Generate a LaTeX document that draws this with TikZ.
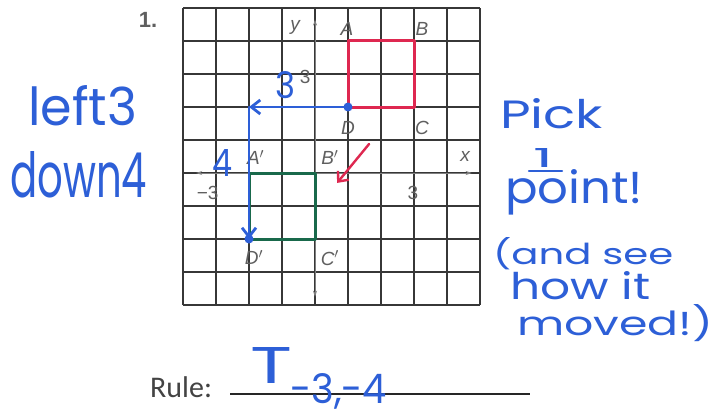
\documentclass[tikz,border=0pt]{standalone}
\usepackage{fontspec}
\usepackage{graphicx}
\setmainfont{Liberation Sans}
\newfontfamily\hand{Poppins}
\newfontfamily\calib{Carlito}
\usetikzlibrary{arrows.meta}
\definecolor{pen}{RGB}{45,95,215}
\definecolor{redpen}{RGB}{222,40,80}
\definecolor{greenpen}{RGB}{25,105,75}
\definecolor{gridc}{RGB}{55,55,55}
\definecolor{printc}{RGB}{95,95,95}
\newcommand{\fitbox}[3]{\resizebox{#1}{#2}{\hand\fontsize{40}{40}\selectfont #3}}
\tikzset{
  gridline/.style={draw=gridc, line width=1.8pt},
  axisline/.style={draw=printc!80, line width=0.9pt, {Stealth[length=6pt,width=4pt]}-{Stealth[length=6pt,width=4pt]}},
  lbl/.style={text=printc, font=\fontsize{19}{19}\selectfont\itshape, inner sep=0pt},
  handtxt/.style={text=pen, inner sep=0pt, anchor=base west},
  penline/.style={draw=pen, line width=2.8pt, line cap=round},
  penhead/.style={-{Straight Barb[length=9pt,width=14pt,line width=2.8pt]}},
}
\begin{document}
\begin{tikzpicture}[x=1pt,y=-1pt]
\useasboundingbox[fill=white] (0,0) rectangle (715,420);
\node[text=printc, font=\bfseries\fontsize{22}{22}\selectfont, inner sep=0pt] (num) at (148,20) {1.};
\begin{scope}[shift={(315pt,-173pt)}, x=33pt, y=33pt]
  \foreach \i in {-4,...,5} {
    \draw[gridline] (\i,-4) -- (\i,5);
    \draw[gridline] (-4,\i) -- (5,\i);
  }
  \coordinate (xl) at (-3.6,0);
  \coordinate (xr) at (4.75,0);
  \coordinate (yb) at (0,-3.75);
  \coordinate (yt) at (0,4.65);
  \draw[axisline] (xl) -- (xr);
  \draw[axisline] (yb) -- (yt);
  \node[lbl] (ylab) at (-0.6,4.4) {y};
  \node[lbl] (xlab) at (4.55,0.5) {x};
  \node[lbl, font=\fontsize{19}{19}\selectfont] (m3) at (-3.3,-0.6) {\,−3};
  \node[lbl, font=\fontsize{19}{19}\selectfont] (p3) at (2.97,-0.6) {3};
  \node[lbl, font=\fontsize{19}{19}\selectfont] (y3) at (-0.3,2.9) {3};
  % red square
  \coordinate (A) at (1,4);
  \coordinate (B) at (3,4);
  \coordinate (C) at (3,2);
  \coordinate (D) at (1,2);
  \draw[draw=redpen, line width=3pt, line join=round] (A) -- (B) -- (C) -- (D) -- cycle;
  \node[lbl] (Al) at (0.97,4.35) {A};
  \node[lbl] (Bl) at (3.24,4.35) {B};
  \node[lbl] (Cl) at (3.24,1.36) {C};
  \node[lbl] (Dl) at (1.0,1.36) {D};
  % green square
  \coordinate (A2) at (-2,0);
  \coordinate (B2) at (0,0);
  \coordinate (C2) at (0,-2);
  \coordinate (D2) at (-2,-2);
  \draw[draw=greenpen, line width=3pt, line join=round] (A2) -- (B2) -- (C2) -- (D2) -- cycle;
  \node[lbl] (A2l) at (-1.8,0.48) {A$'$};
  \node[lbl] (B2l) at (0.45,0.48) {B$'$};
  \node[lbl] (C2l) at (0.45,-2.58) {C$'$};
  \node[lbl] (D2l) at (-1.85,-2.55) {D$'$};
  % blue path
  \coordinate (corner) at (-2,2);
  \draw[penline, penhead] (D) -- (corner);
  \draw[penline, penhead] (corner) -- (D2);
  \fill[pen] (D) circle (4.5pt);
  \fill[pen] (D2) circle (4.5pt);
  \node[text=pen, inner sep=0pt] (three) at (-0.9,2.67) {\fitbox{20pt}{27pt}{3}};
  \node[text=pen, inner sep=0pt] (four) at (-2.8,0.3) {\fitbox{20pt}{27pt}{4}};
  % red arrow
  \coordinate (rs) at (1.64,0.88);
  \coordinate (re) at (0.67,-0.3);
  \draw[draw=redpen, line width=2.4pt, line cap=round, -{Straight Barb[length=8pt,width=14pt,line width=2.4pt]}] (rs) -- (re);
\end{scope}
% left notes
\node[handtxt] (left) at (28,125) {\fitbox{109pt}{40pt}{left3}};
\node[handtxt] (down) at (10,197) {\fitbox{137pt}{46pt}{down4}};
% right notes
\node[handtxt] (pick) at (500,128) {\fitbox{103pt}{30pt}{Pick}};
\node[handtxt] (one) at (533,167) {\fitbox{20pt}{19pt}{1}};
\coordinate (u1) at (529,171);
\coordinate (u2) at (562,171);
\draw[penline, line width=2.4pt] (u1) -- (u2);
\node[handtxt] (point) at (505,203) {\fitbox{138pt}{34pt}{point!}};
\node[handtxt] (andsee) at (493,264) {\fitbox{180pt}{27pt}{(and see}};
\node[handtxt] (howit) at (510,299) {\fitbox{140pt}{28pt}{how it}};
\node[handtxt] (moved) at (517,335) {\fitbox{196pt}{31pt}{moved!)}};
% rule
\node[text=printc!70!black, font=\calib\fontsize{30}{30}\selectfont, inner sep=0pt, anchor=base west] (rule) at (150,397) {Rule:};
\coordinate (r1) at (230,394);
\coordinate (r2) at (530,394);
\draw[draw=black!85, line width=1.6pt] (r1) -- (r2);
\node[handtxt] (T) at (250,383) {\fitbox{42pt}{36pt}{T}};
\node[handtxt] (sub) at (290,403) {\fitbox{97pt}{30pt}{-3,-4}};
\end{tikzpicture}
\end{document}
